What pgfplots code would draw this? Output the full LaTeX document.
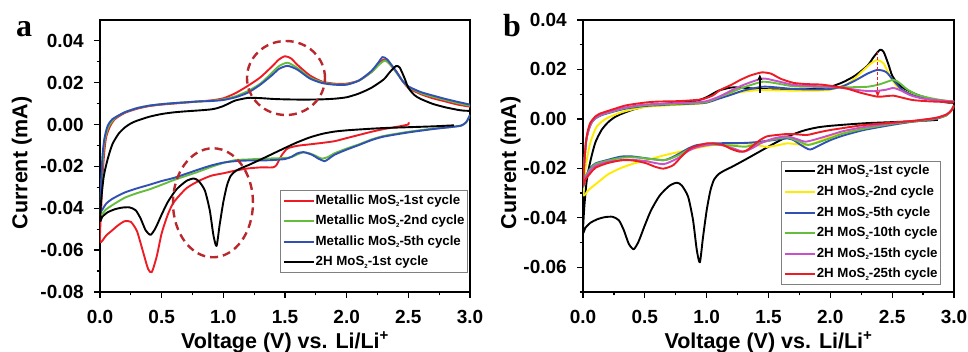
\documentclass[border=0pt]{standalone}
\usepackage{fontspec}
\setmainfont{Liberation Sans}
\newfontfamily\serifb{Liberation Serif}
\usepackage{pgfplots}
\pgfplotsset{compat=1.18}
\usetikzlibrary{arrows.meta}
\definecolor{cRed}{RGB}{237,28,36}
\definecolor{cGreen}{RGB}{100,190,60}
\definecolor{cBlue}{RGB}{50,80,180}
\definecolor{cYellow}{RGB}{255,235,0}
\definecolor{cMag}{RGB}{200,80,200}
\definecolor{cDash}{RGB}{185,40,45}
\newcommand\sub[1]{\raisebox{-2.5pt}{\fontsize{6}{6}\selectfont #1}}
\pgfplotsset{
  cvaxis/.style={
    scale only axis, width=370pt, height=272pt,
    axis line style={line width=1.6pt},
    tick style={line width=1.3pt, black},
    major tick length=6pt, minor tick length=3.3pt,
    tick align=outside, xtick pos=bottom, ytick pos=left,
    scaled y ticks=false, scaled x ticks=false,
    xmin=0, xmax=3,
    xtick={0,0.5,1,1.5,2,2.5,3},
    xticklabels={0.0,0.5,1.0,1.5,2.0,2.5,3.0},
    minor xtick={0.25,0.75,1.25,1.75,2.25,2.75},
    xticklabel style={anchor=base, yshift=-26pt, inner sep=0pt, font=\fontsize{19}{19}\selectfont\bfseries},
    yticklabel style={anchor=east, xshift=-10pt, inner sep=0pt, font=\fontsize{19}{19}\selectfont\bfseries},
    xlabel={Voltage (V) vs. Li/Li\textsuperscript{\bfseries +}},
    ylabel={Current (mA)},
    label style={font=\fontsize{21.5}{21.5}\selectfont\bfseries},
    xlabel style={at={(axis description cs:0.5,-0.2077)}, anchor=base, inner sep=0pt},
    every axis plot/.append style={line width=1.9pt, smooth, tension=0.4, line join=round},
    legend cell align=left,
    legend image code/.code={\draw[#1, line width=2pt] (0pt,0pt) -- (30pt,0pt);},
    legend style={draw=gray, line width=0.8pt, font=\fontsize{13.3}{13.3}\selectfont\bfseries,
      nodes={inner sep=1pt, text height=9.5pt, text depth=2.7pt}, row sep=6.4pt,
      inner xsep=2pt, inner ysep=3pt},
  }
}
\begin{document}
\begin{tikzpicture}[x=1pt,y=1pt]
\useasboundingbox (0,0) rectangle (968,352);
\node[anchor=base west, inner sep=0pt, font=\serifb\fontsize{32}{32}\selectfont\bfseries] at (16,315) {a};
\node[anchor=base west, inner sep=0pt, font=\serifb\fontsize{32}{32}\selectfont\bfseries] at (503,315) {b};
% ---------------- panel a ----------------
\begin{axis}[cvaxis, at={(100pt,60pt)}, anchor=south west,
  ymin=-0.08, ymax=0.0499,
  ytick={-0.08,-0.06,-0.04,-0.02,0,0.02,0.04},
  yticklabels={-0.08,-0.06,-0.04,-0.02,0.00,0.02,0.04},
  minor ytick={-0.07,-0.05,-0.03,-0.01,0.01,0.03},
  ylabel style={at={(axis description cs:-0.2116,0.474)}, anchor=center, inner sep=0pt},
  legend style={at={(axis description cs:0.9946,0.07)}, anchor=south east}]
\addplot[cRed] coordinates {
(2.5,0.001) (2.5,0.0) (2.4,-0.0012) (2.3,-0.0022) (2.2,-0.0035) (2.1,-0.005) (2.0,-0.0065) (1.9,-0.008) (1.8,-0.0088) (1.7,-0.0095) (1.6,-0.0102) (1.52,-0.0115) (1.47,-0.015) (1.43,-0.0195) (1.4,-0.0205) (1.35,-0.0205) (1.3,-0.0205) (1.2,-0.021) (1.1,-0.022) (1.0,-0.0233) (0.9,-0.0245) (0.8,-0.027) (0.7,-0.0305) (0.6,-0.037) (0.55,-0.043) (0.5,-0.052) (0.46,-0.063) (0.42,-0.0705) (0.39,-0.069) (0.35,-0.061) (0.3,-0.051) (0.25,-0.0465) (0.2,-0.0462) (0.15,-0.048) (0.1,-0.0505) (0.05,-0.053) (0.0,-0.056)
(0.01,-0.04) (0.02,-0.025) (0.035,-0.013) (0.05,-0.006) (0.08,-0.001) (0.12,0.0025) (0.2,0.0055) (0.3,0.0075) (0.4,0.0088) (0.5,0.0095) (0.6,0.01) (0.7,0.0105) (0.8,0.011) (0.9,0.0115) (1.0,0.0125) (1.1,0.015) (1.2,0.0185) (1.3,0.0225) (1.4,0.028) (1.45,0.031) (1.5,0.0326) (1.55,0.0315) (1.6,0.0285) (1.7,0.0235) (1.8,0.0205) (1.9,0.0195) (2.0,0.0195) (2.1,0.021) (2.2,0.025) (2.27,0.0295) (2.3,0.031) (2.33,0.030) (2.4,0.0255) (2.45,0.021) (2.5,0.0175) (2.6,0.0145) (2.7,0.0125) (2.8,0.011) (2.9,0.0095) (3.0,0.0085)};
\addlegendentry{Metallic MoS\sub{2}-1st cycle}
\addplot[cGreen] coordinates {
(3.0,0.0045) (2.97,0.001) (2.93,-0.0005) (2.85,-0.0012) (2.7,-0.002) (2.5,-0.0035) (2.3,-0.0055) (2.2,-0.0072) (2.1,-0.0095) (2.0,-0.0115) (1.9,-0.0138) (1.85,-0.0155) (1.8,-0.0163) (1.75,-0.015) (1.7,-0.0138) (1.65,-0.0133) (1.6,-0.0143) (1.55,-0.0156) (1.5,-0.016) (1.4,-0.0162) (1.3,-0.0164) (1.2,-0.0167) (1.1,-0.017) (1.0,-0.0184) (0.9,-0.0203) (0.8,-0.0225) (0.7,-0.0245) (0.6,-0.0265) (0.5,-0.0288) (0.4,-0.031) (0.3,-0.0328) (0.2,-0.035) (0.1,-0.0385) (0.05,-0.0405) (0.0,-0.043)
(0.01,-0.03) (0.025,-0.015) (0.04,-0.007) (0.07,-0.001) (0.12,0.003) (0.2,0.0058) (0.3,0.0078) (0.4,0.009) (0.5,0.0097) (0.6,0.0102) (0.7,0.0106) (0.8,0.011) (0.9,0.0113) (1.0,0.012) (1.1,0.0135) (1.2,0.016) (1.3,0.0195) (1.4,0.025) (1.45,0.0278) (1.52,0.0295) (1.6,0.027) (1.7,0.0225) (1.8,0.0202) (1.9,0.0192) (2.0,0.0192) (2.1,0.021) (2.2,0.025) (2.27,0.029) (2.31,0.0305) (2.35,0.029) (2.4,0.025) (2.45,0.021) (2.5,0.018) (2.6,0.015) (2.7,0.0132) (2.8,0.0117) (2.9,0.0102) (3.0,0.009)};
\addlegendentry{Metallic MoS\sub{2}-2nd cycle}
\addplot[cBlue] coordinates {
(3.0,0.0045) (2.97,0.0012) (2.93,-0.0005) (2.85,-0.0012) (2.7,-0.0022) (2.5,-0.0038) (2.3,-0.0058) (2.2,-0.0075) (2.1,-0.0098) (2.0,-0.012) (1.9,-0.0145) (1.85,-0.0166) (1.82,-0.0175) (1.77,-0.0163) (1.72,-0.0145) (1.65,-0.0132) (1.6,-0.0138) (1.55,-0.0155) (1.5,-0.0165) (1.4,-0.017) (1.3,-0.0172) (1.2,-0.0172) (1.1,-0.0175) (1.0,-0.0182) (0.9,-0.0196) (0.8,-0.0215) (0.7,-0.0235) (0.6,-0.0255) (0.5,-0.027) (0.4,-0.0288) (0.3,-0.0305) (0.2,-0.0325) (0.1,-0.0355) (0.05,-0.0378) (0.0,-0.0415)
(0.01,-0.028) (0.02,-0.015) (0.035,-0.007) (0.06,-0.001) (0.1,0.0025) (0.2,0.0058) (0.3,0.0078) (0.4,0.009) (0.5,0.0097) (0.6,0.0102) (0.7,0.0106) (0.8,0.011) (0.9,0.0112) (1.0,0.0117) (1.1,0.013) (1.2,0.0152) (1.3,0.019) (1.4,0.0238) (1.45,0.0265) (1.52,0.028) (1.6,0.0262) (1.7,0.022) (1.8,0.0198) (1.9,0.019) (2.0,0.019) (2.1,0.021) (2.2,0.0255) (2.26,0.0298) (2.29,0.0322) (2.33,0.031) (2.4,0.0255) (2.45,0.021) (2.5,0.0182) (2.6,0.0155) (2.7,0.0138) (2.8,0.0122) (2.9,0.0108) (3.0,0.0095)};
\addlegendentry{Metallic MoS\sub{2}-5th cycle}
\addplot[black] coordinates {
(2.87,-0.0004) (2.7,-0.0009) (2.5,-0.0013) (2.3,-0.0017) (2.15,-0.0022) (2.0,-0.0028) (1.9,-0.0034) (1.8,-0.0045) (1.7,-0.0062) (1.6,-0.0085) (1.5,-0.0112) (1.4,-0.014) (1.3,-0.0168) (1.2,-0.0195) (1.15,-0.0207) (1.1,-0.0222) (1.06,-0.0245) (1.03,-0.029) (1.0,-0.037) (0.97,-0.048) (0.945,-0.058) (0.92,-0.053) (0.89,-0.041) (0.85,-0.0315) (0.8,-0.027) (0.76,-0.0258) (0.7,-0.027) (0.62,-0.031) (0.55,-0.037) (0.5,-0.043) (0.45,-0.0495) (0.41,-0.0527) (0.37,-0.0505) (0.33,-0.045) (0.29,-0.041) (0.24,-0.0396) (0.18,-0.0397) (0.12,-0.0405) (0.06,-0.042) (0.02,-0.044) (0.0,-0.046)
(0.01,-0.036) (0.03,-0.025) (0.06,-0.017) (0.1,-0.0095) (0.15,-0.0045) (0.2,-0.0015) (0.25,0.0005) (0.3,0.0018) (0.4,0.0037) (0.5,0.005) (0.6,0.0058) (0.7,0.0063) (0.8,0.0067) (0.9,0.0072) (0.95,0.0078) (1.0,0.0088) (1.05,0.0102) (1.1,0.0115) (1.2,0.0127) (1.3,0.0126) (1.4,0.0122) (1.5,0.012) (1.6,0.0119) (1.7,0.0119) (1.8,0.012) (1.9,0.0123) (2.0,0.013) (2.1,0.0148) (2.2,0.0175) (2.3,0.0215) (2.35,0.025) (2.4,0.0279) (2.43,0.0272) (2.47,0.022) (2.5,0.0175) (2.55,0.014) (2.6,0.0122) (2.7,0.0098) (2.8,0.0082) (2.9,0.007) (2.95,0.0066) (3.0,0.0065)};
\addlegendentry{2H MoS\sub{2}-1st cycle}
\draw[cDash, line width=2.4pt, dash pattern=on 8pt off 5pt] (axis cs:1.508,0.0222) ellipse [x radius=39pt, y radius=37pt];
\draw[cDash, line width=2.4pt, dash pattern=on 8pt off 5pt] (axis cs:0.916,-0.0374) ellipse [x radius=40pt, y radius=54.5pt];
\end{axis}
% ---------------- panel b ----------------
\begin{axis}[cvaxis, at={(583pt,60pt)}, anchor=south west, width=371pt,
  ymin=-0.07, ymax=0.04,
  ytick={-0.06,-0.04,-0.02,0,0.02,0.04},
  yticklabels={-0.06,-0.04,-0.02,0.00,0.02,0.04},
  minor ytick={-0.07,-0.05,-0.03,-0.01,0.01,0.03},
  ylabel style={at={(axis description cs:-0.195,0.474)}, anchor=center, inner sep=0pt},
  legend style={at={(axis description cs:0.965,0.026)}, anchor=south east}]
\addplot[black] coordinates {
(2.87,-0.0004) (2.7,-0.0009) (2.5,-0.0013) (2.3,-0.0017) (2.15,-0.0022) (2.0,-0.0028) (1.9,-0.0034) (1.8,-0.0045) (1.7,-0.0062) (1.6,-0.0085) (1.5,-0.0112) (1.4,-0.014) (1.3,-0.0168) (1.2,-0.0195) (1.15,-0.0207) (1.1,-0.0222) (1.06,-0.0245) (1.03,-0.029) (1.0,-0.037) (0.97,-0.048) (0.945,-0.058) (0.92,-0.053) (0.89,-0.041) (0.85,-0.0315) (0.8,-0.027) (0.76,-0.0258) (0.7,-0.027) (0.62,-0.031) (0.55,-0.037) (0.5,-0.043) (0.45,-0.0495) (0.41,-0.0527) (0.37,-0.0505) (0.33,-0.045) (0.29,-0.041) (0.24,-0.0396) (0.18,-0.0397) (0.12,-0.0405) (0.06,-0.042) (0.02,-0.044) (0.0,-0.046)
(0.01,-0.036) (0.03,-0.025) (0.06,-0.017) (0.1,-0.0095) (0.15,-0.0045) (0.2,-0.0015) (0.25,0.0005) (0.3,0.0018) (0.4,0.0037) (0.5,0.005) (0.6,0.0058) (0.7,0.0063) (0.8,0.0067) (0.9,0.0072) (0.95,0.0078) (1.0,0.0088) (1.05,0.0102) (1.1,0.0115) (1.2,0.0127) (1.3,0.0126) (1.4,0.0122) (1.5,0.012) (1.6,0.0119) (1.7,0.0119) (1.8,0.012) (1.9,0.0123) (2.0,0.013) (2.1,0.0148) (2.2,0.0175) (2.3,0.0215) (2.35,0.025) (2.4,0.0279) (2.43,0.0272) (2.47,0.022) (2.5,0.0175) (2.55,0.014) (2.6,0.0122) (2.7,0.0098) (2.8,0.0082) (2.9,0.007) (2.95,0.0066) (3.0,0.0065)};
\addlegendentry{2H MoS\sub{2}-1st cycle}
\addplot[cYellow] coordinates {
(3.0,0.0055) (2.98,0.0035) (2.94,0.0015) (2.85,0.0) (2.67,-0.0011) (2.5,-0.002) (2.27,-0.0038) (2.1,-0.0058) (2.0,-0.0072) (1.9,-0.0092) (1.81,-0.0106) (1.72,-0.0102) (1.65,-0.0099) (1.56,-0.0108) (1.485,-0.0113) (1.4,-0.0105) (1.32,-0.0099) (1.2,-0.0101) (1.05,-0.0106) (0.92,-0.0118) (0.78,-0.0133) (0.65,-0.0148) (0.515,-0.0167) (0.4,-0.0182) (0.3,-0.02) (0.2,-0.0225) (0.11,-0.0261) (0.05,-0.0285) (0,-0.0309)
(0.02,-0.02) (0.057,-0.01) (0.11,-0.0032) (0.19,0.0002) (0.326,0.0029) (0.5,0.0048) (0.7,0.0055) (0.9,0.006) (1.0,0.0066) (1.1,0.0085) (1.2,0.0102) (1.3,0.011) (1.43,0.0117) (1.6,0.0115) (1.86,0.0114) (2.0,0.0118) (2.13,0.0139) (2.2,0.0165) (2.27,0.0198) (2.33,0.0225) (2.38,0.0238) (2.43,0.0225) (2.48,0.0175) (2.54,0.013) (2.6,0.0112) (2.67,0.0098) (2.8,0.0082) (2.9,0.0074) (3.0,0.0069)};
\addlegendentry{2H MoS\sub{2}-2nd cycle}
\addplot[cBlue] coordinates {
(3.0,0.0055) (2.98,0.0035) (2.94,0.0015) (2.85,0.0) (2.67,-0.0011) (2.5,-0.0024) (2.27,-0.0045) (2.1,-0.0068) (2.0,-0.0086) (1.92,-0.0105) (1.835,-0.0124) (1.76,-0.0105) (1.7,-0.0085) (1.65,-0.0079) (1.55,-0.0085) (1.485,-0.0089) (1.4,-0.0094) (1.32,-0.0097) (1.2,-0.0098) (1.05,-0.0099) (0.92,-0.0106) (0.85,-0.012) (0.78,-0.014) (0.7,-0.016) (0.65,-0.0167) (0.55,-0.0162) (0.45,-0.0155) (0.38,-0.0151) (0.3,-0.0153) (0.19,-0.0167) (0.1,-0.018) (0.057,-0.02) (0.02,-0.0235) (0,-0.0275)
(0.01,-0.018) (0.025,-0.009) (0.045,-0.0045) (0.07,-0.0015) (0.1,0.0002) (0.15,0.0015) (0.25,0.003) (0.35,0.0042) (0.5,0.0052) (0.7,0.0058) (0.9,0.0062) (1.0,0.0066) (1.1,0.0082) (1.2,0.0098) (1.3,0.0115) (1.45,0.013) (1.55,0.0128) (1.7,0.0121) (1.85,0.0119) (2.0,0.0121) (2.1,0.0132) (2.2,0.0155) (2.3,0.0183) (2.38,0.0198) (2.45,0.019) (2.52,0.015) (2.58,0.0118) (2.67,0.0095) (2.8,0.008) (2.9,0.0073) (3.0,0.007)};
\addlegendentry{2H MoS\sub{2}-5th cycle}
\addplot[cGreen] coordinates {
(3.0,0.0055) (2.98,0.0035) (2.94,0.0015) (2.85,0.0002) (2.67,-0.001) (2.5,-0.002) (2.27,-0.004) (2.1,-0.006) (2.0,-0.0078) (1.9,-0.0095) (1.82,-0.0105) (1.74,-0.009) (1.65,-0.0075) (1.55,-0.0082) (1.45,-0.0095) (1.32,-0.0112) (1.2,-0.0108) (1.05,-0.0104) (0.92,-0.0112) (0.85,-0.0125) (0.78,-0.0145) (0.7,-0.0162) (0.65,-0.0167) (0.55,-0.0162) (0.45,-0.0157) (0.38,-0.0155) (0.3,-0.0158) (0.19,-0.017) (0.1,-0.0183) (0.057,-0.0205) (0.02,-0.0235) (0,-0.027)
(0.01,-0.018) (0.025,-0.009) (0.045,-0.0045) (0.07,-0.0013) (0.1,0.0004) (0.15,0.0017) (0.25,0.0032) (0.35,0.0045) (0.5,0.0055) (0.7,0.006) (0.9,0.0064) (1.0,0.0068) (1.1,0.0088) (1.2,0.0108) (1.3,0.0128) (1.45,0.015) (1.55,0.0145) (1.7,0.0132) (1.85,0.013) (2.0,0.0128) (2.15,0.0128) (2.3,0.013) (2.4,0.014) (2.51,0.0158) (2.56,0.0145) (2.62,0.012) (2.7,0.0098) (2.8,0.0085) (2.9,0.0076) (3.0,0.007)};
\addlegendentry{2H MoS\sub{2}-10th cycle}
\addplot[cMag] coordinates {
(3.0,0.0055) (2.98,0.0035) (2.94,0.0018) (2.85,0.0003) (2.67,-0.0008) (2.5,-0.0017) (2.27,-0.0033) (2.1,-0.005) (2.0,-0.0065) (1.9,-0.008) (1.8,-0.0092) (1.72,-0.008) (1.65,-0.007) (1.55,-0.0078) (1.45,-0.0095) (1.38,-0.0115) (1.3,-0.0133) (1.22,-0.012) (1.12,-0.0106) (1.05,-0.0102) (0.92,-0.0115) (0.85,-0.013) (0.78,-0.0155) (0.7,-0.0175) (0.65,-0.0183) (0.58,-0.0178) (0.5,-0.017) (0.38,-0.0165) (0.3,-0.0167) (0.19,-0.0175) (0.1,-0.019) (0.057,-0.021) (0.02,-0.024) (0,-0.027)
(0.01,-0.018) (0.025,-0.009) (0.045,-0.0045) (0.07,-0.0013) (0.1,0.0005) (0.15,0.0018) (0.25,0.0034) (0.35,0.0047) (0.5,0.0058) (0.7,0.0063) (0.9,0.0067) (1.0,0.0072) (1.1,0.009) (1.2,0.0115) (1.3,0.0138) (1.45,0.0163) (1.55,0.0155) (1.7,0.0138) (1.85,0.0133) (2.0,0.013) (2.15,0.0122) (2.25,0.0115) (2.35,0.0112) (2.45,0.0118) (2.51,0.0125) (2.57,0.0115) (2.65,0.0095) (2.75,0.0082) (2.9,0.0074) (3.0,0.007)};
\addlegendentry{2H MoS\sub{2}-15th cycle}
\addplot[cRed] coordinates {
(3.0,0.0055) (2.98,0.0035) (2.94,0.0018) (2.85,0.0004) (2.67,-0.0008) (2.5,-0.0015) (2.27,-0.0025) (2.0,-0.0045) (1.9,-0.0055) (1.81,-0.0065) (1.72,-0.0062) (1.65,-0.0061) (1.55,-0.0066) (1.485,-0.0071) (1.43,-0.0086) (1.37,-0.011) (1.32,-0.0128) (1.27,-0.0133) (1.2,-0.0122) (1.135,-0.0106) (1.05,-0.0099) (1.0,-0.0099) (0.93,-0.0108) (0.865,-0.012) (0.8,-0.015) (0.73,-0.0187) (0.65,-0.0201) (0.58,-0.0193) (0.515,-0.018) (0.45,-0.0172) (0.38,-0.0167) (0.3,-0.0168) (0.19,-0.018) (0.1,-0.0198) (0.057,-0.0221) (0.02,-0.0245) (0,-0.0268)
(0.01,-0.018) (0.025,-0.009) (0.04,-0.0045) (0.06,-0.0015) (0.1,0.001) (0.14,0.0022) (0.2,0.0032) (0.25,0.004) (0.35,0.0055) (0.5,0.0066) (0.6,0.007) (0.78,0.0072) (0.9,0.0076) (0.97,0.008) (1.05,0.0095) (1.11,0.0117) (1.2,0.0138) (1.27,0.0157) (1.35,0.0175) (1.445,0.0188) (1.52,0.0183) (1.6,0.0162) (1.7,0.0146) (1.8,0.0141) (1.92,0.0139) (2.0,0.0134) (2.13,0.0123) (2.25,0.0105) (2.38,0.009) (2.45,0.0092) (2.51,0.0094) (2.58,0.0086) (2.67,0.0076) (2.8,0.0071) (2.9,0.0069) (3.0,0.0068)};
\addlegendentry{2H MoS\sub{2}-25th cycle}
\draw[black, line width=1.8pt, -{Stealth[length=6pt,width=5pt]}] (axis cs:1.43,0.0103) -- (axis cs:1.43,0.0180);
\draw[cRed, line width=1.3pt, dash pattern=on 3pt off 2pt, -{Stealth[length=6pt,width=5pt]}] (axis cs:2.383,0.0272) -- (axis cs:2.383,0.0089);
\end{axis}
\end{tikzpicture}
\end{document}
